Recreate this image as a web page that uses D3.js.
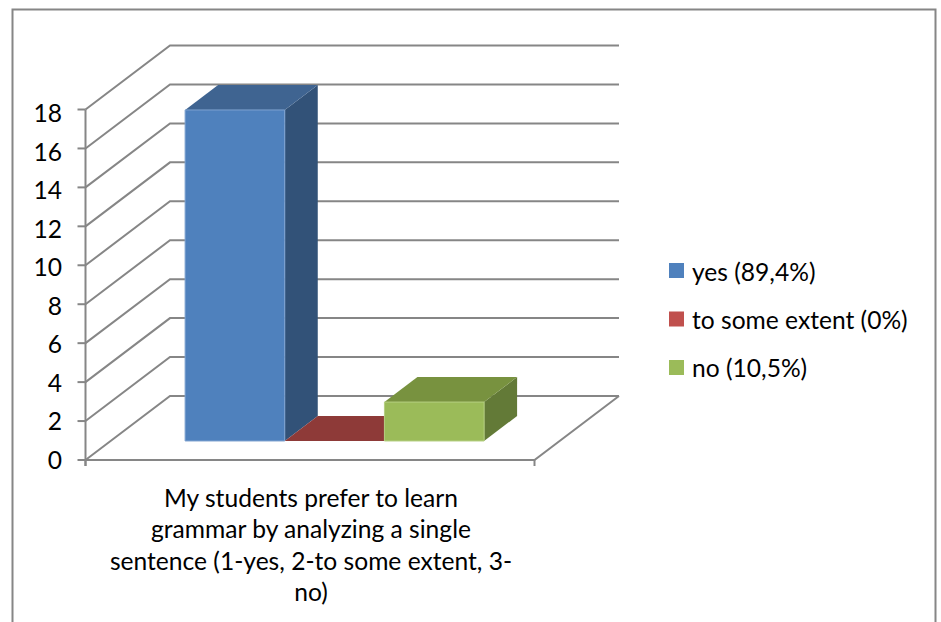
<!DOCTYPE html>
<html>
<head>
<meta charset="utf-8">
<script src="https://cdn.jsdelivr.net/npm/d3@7/dist/d3.min.js"></script>
<style>
html,body{margin:0;padding:0;background:#fff}
svg{display:block}
text{font-family:Lato,"Open Sans",sans-serif;fill:#000}
</style>
</head>
<body>
<svg id="chart" width="941" height="622"></svg>
<script>
const seriesNames = ["yes (89,4%)", "to some extent (0%)", "no (10,5%)"];
const seriesValues = [17, 0, 2];
const yTicks = [0, 2, 4, 6, 8, 10, 12, 14, 16, 18];
const categoryLines = [
  "My students prefer to learn",
  "grammar by analyzing a single",
  "sentence (1-yes, 2-to some extent, 3-",
  "no)"
];
const frontColors = ["#4f81bd", "#c0504d", "#9bbb59"];
const topColors = ["#3f6491", "#8e3a38", "#78923f"];
const sideColors = ["#325278", "#7a2f2d", "#637a37"];
const edgeColors = ["#7fa3d0", "#8e3a38", "#b5cf82"];

const svg = d3.select("#chart");
const axisColor = "#868686";
const FONT = 24.6;

// Oblique projection: depth 0 is the front plane, depth 1 the back wall.
const depthX = d3.scaleLinear().domain([0, 1]).range([0, 84.5]);
const depthY = d3.scaleLinear().domain([0, 1]).range([0, -64]);
const y = d3.scaleLinear().domain([0, 18]).range([460, 109.5]);
const x = d3.scaleBand().domain([0]).range([85.5, 534.5]);
const barX = d3.scaleBand().domain(d3.range(seriesValues.length))
  .range([160, 459]);
const labelY = d3.scaleLinear().domain([0, 18]).range([460, 113.5]);

const project = (px, value, depth) => [px + depthX(depth), y(value) + depthY(depth)];
const poly = pts => pts.map(p => p.join(",")).join(" ");

// Outer chart frame, open at the bottom edge.
svg.append("path")
  .attr("d", "M12.5,622V9.5H935.5V622")
  .attr("fill", "none").attr("stroke", axisColor).attr("stroke-width", 2);

// Gridlines on the side and back walls.
const grid = svg.append("g").attr("fill", "none").attr("stroke", axisColor).attr("stroke-width", 2);
yTicks.forEach(t => {
  const pts = [
    project(x.range()[0], t, 0),
    project(x.range()[0], t, 1),
    project(x.range()[1], t, 1)
  ];
  grid.append("polyline").attr("points", poly(pts));
});
// Right edge of the floor.
grid.append("polyline").attr("points", poly([
  project(x.range()[0], 0, 0),
  project(x.range()[1], 0, 0),
  project(x.range()[1], 0, 1)
]));

// Value axis, with its labels placed separately below.
const yAxis = svg.append("g")
  .attr("transform", `translate(${x.range()[0]},0)`)
  .call(d3.axisLeft(y).offset(0).tickValues(yTicks).tickSize(8).tickFormat(""));
yAxis.selectAll("path,line").attr("stroke", axisColor).attr("stroke-width", 2);
yAxis.select("path").attr("d", `M0,${y(18)}V${y(0) + 6}`);

// Category axis ticks at both ends.
const xAxis = svg.append("g")
  .attr("transform", `translate(0,${y(0)})`)
  .call(d3.axisBottom(d3.scaleLinear().domain(x.range()).range(x.range()))
    .offset(0).tickValues(x.range()).tickSize(6).tickFormat(""));
xAxis.selectAll("path").remove();
xAxis.selectAll("line").attr("stroke", axisColor).attr("stroke-width", 2);

svg.append("g").selectAll("text").data(yTicks).join("text")
  .attr("x", 62).attr("y", d => labelY(d)).attr("dy", "0.35em")
  .attr("text-anchor", "end").attr("font-size", FONT)
  .text(d => d);

// Bars: each is a front face, top face and side face.
const barFront = 0.297, barBack = 0.6875;
const bars = svg.append("g");
seriesValues.forEach((v, i) => {
  const left = barX(i), right = left + barX.bandwidth();
  const g = bars.append("g");
  if (v > 0) {
    g.append("polygon").attr("fill", sideColors[i]).attr("points", poly([
      project(right, 0, barFront), project(right, 0, barBack),
      project(right, v, barBack), project(right, v, barFront)
    ]));
  }
  g.append("polygon").attr("fill", topColors[i]).attr("points", poly([
    project(left, v, barFront), project(right, v, barFront),
    project(right, v, barBack), project(left, v, barBack)
  ]));
  if (v > 0) {
    g.append("polygon").attr("fill", frontColors[i])
      .attr("stroke", edgeColors[i]).attr("stroke-width", 1)
      .attr("points", poly([
        project(left, 0, barFront), project(right, 0, barFront),
        project(right, v, barFront), project(left, v, barFront)
      ]));
  }
});

// Wrapped category label.
svg.append("g").selectAll("text").data(categoryLines).join("text")
  .attr("x", 311).attr("y", (d, i) => 506.5 + i * 31.5)
  .attr("text-anchor", "middle").attr("font-size", FONT)
  .text(d => d);

// Legend.
const legendY = d3.scalePoint().domain(seriesNames).range([270.5, 367.5]);
const legendTextY = d3.scalePoint().domain(seriesNames).range([272.5, 368]);
const legend = svg.append("g");
legend.selectAll("rect").data(seriesNames).join("rect")
  .attr("x", 669).attr("y", d => legendY(d) - 7.5).attr("width", 15).attr("height", 15)
  .attr("fill", (d, i) => frontColors[i]);
legend.selectAll("text").data(seriesNames).join("text")
  .attr("x", 692).attr("y", d => legendTextY(d)).attr("dy", "0.35em")
  .attr("font-size", FONT).text(d => d);
</script>
</body>
</html>
